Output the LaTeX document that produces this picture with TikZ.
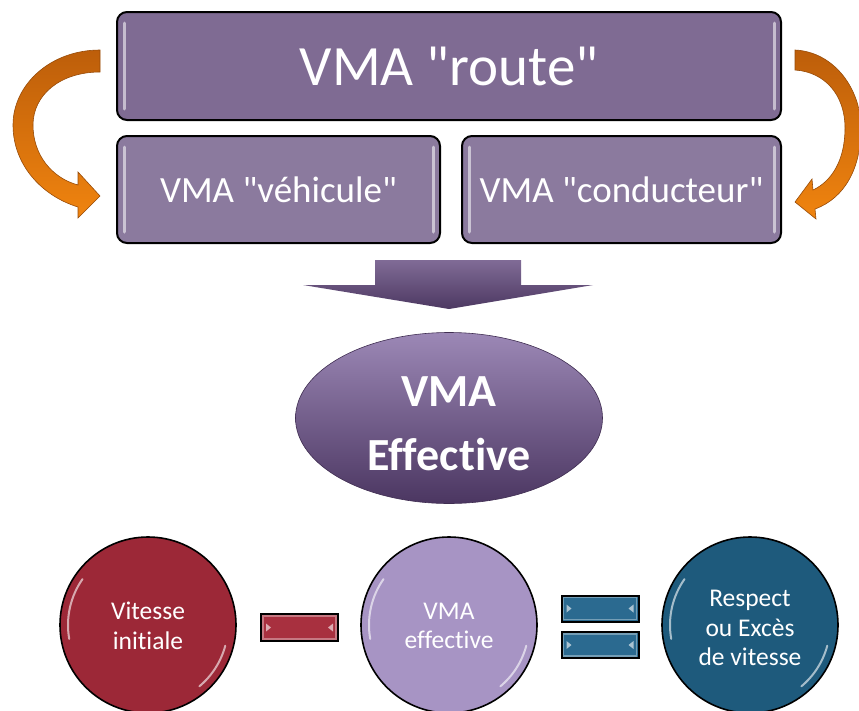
\documentclass[tikz,border=0pt]{standalone}
\usepackage{fontspec}
\setmainfont[Ligatures={TeXOff,NoCommon}]{Carlito}
\usetikzlibrary{shapes.geometric}
\definecolor{routec}{HTML}{7F6B93}
\definecolor{lowc}{HTML}{8B7A9E}
\definecolor{orA}{HTML}{BD5E0A}
\definecolor{orB}{HTML}{F0840F}
\definecolor{arrA}{HTML}{806B96}
\definecolor{arrB}{HTML}{4D3962}
\definecolor{elA}{HTML}{9C88B6}
\definecolor{elM}{HTML}{6C5587}
\definecolor{elB}{HTML}{4B3661}
\definecolor{redc}{HTML}{9C2837}
\definecolor{lavc}{HTML}{A794C4}
\definecolor{bluec}{HTML}{1E5A7C}
\definecolor{redbar}{HTML}{A8303F}
\definecolor{bluebar}{HTML}{2B6A90}
\tikzset{
  box/.style={draw=black, line width=2pt, rounded corners=10pt, text=white, inner sep=0pt},
  hl/.style={white, opacity=0.55, line width=3pt, line cap=round},
  ballc/.style={circle, draw=black, line width=1.6pt, minimum size=176pt, inner sep=0pt},
  balltext/.style={text=white, align=center, font=\fontsize{25.5}{29.5}\selectfont},
  barbox/.style={rectangle, draw=black, line width=2pt, inner sep=0pt, minimum width=77pt, minimum height=26pt},
}
\begin{document}
\begin{tikzpicture}[x=1pt,y=-1pt]
\useasboundingbox (0,0) rectangle (859,710);
\clip (0,0) rectangle (859,710);

% top boxes
\node[box, fill=routec, minimum width=664pt, minimum height=108pt, font=\fontsize{57}{60}\selectfont] (route) at (449,66) {VMA "route"};
\node[box, fill=lowc, minimum width=323pt, minimum height=107pt, font=\fontsize{37}{40}\selectfont] (veh) at (278.5,189.5) {VMA "véhicule"};
\node[box, fill=lowc, minimum width=319pt, minimum height=107pt, font=\fontsize{37}{40}\selectfont] (cond) at (621.5,189.5) {VMA "conducteur"};

% highlight strips
\foreach \n in {route,veh,cond}{
  \draw[hl] ([xshift=8pt,yshift=-12pt]\n.north west) -- ([xshift=8pt,yshift=12pt]\n.south west);
  \draw[hl] ([xshift=-8pt,yshift=-12pt]\n.north east) -- ([xshift=-8pt,yshift=12pt]\n.south east);
}

% orange curved arrows
\shade[top color=orA, bottom color=orB, draw=orA!80!black, line width=0.6pt]
  (100,50) .. controls (50,50) and (13,85) .. (13,125)
  .. controls (13,165) and (42,196) .. (78,207)
  -- (78,218) -- (100,196) -- (78,172) -- (78,185)
  .. controls (52,178) and (33,155) .. (33,125)
  .. controls (33,95) and (60,72) .. (100,72) -- cycle;
\shade[top color=orA, bottom color=orB, draw=orA!80!black, line width=0.6pt]
  (795,50) .. controls (835,52) and (861,90) .. (861,128)
  .. controls (861,168) and (845,198) .. (815,209)
  -- (816,219) -- (795,202) -- (812,179) -- (813,190)
  .. controls (832,181) and (845,160) .. (845,128)
  .. controls (845,95) and (825,72) .. (795,70) -- cycle;

% down block arrow
\coordinate (dtip) at (449,309);
\shade[top color=arrA, bottom color=arrB]
  (375,260) -- (521,260) -- (521,285) -- (593,285) -- (dtip) -- (303,285) -- (375,285) -- cycle;

% ellipse
\node[ellipse, minimum width=307pt, minimum height=171pt, inner sep=0pt,
  top color=elA, middle color=elM, bottom color=elB, draw=elB!85!black, line width=0.6pt] (eff) at (449,418) {};
\node[text=white, align=center, font=\fontsize{46}{64}\selectfont\bfseries] (efft) at (449,424) {VMA\\Effective};

% bottom circles
\node[ballc, fill=redc] (vi) at (148,625) {};
\node[ballc, fill=lavc] (ve) at (449,625) {};
\node[ballc, fill=bluec] (re) at (750,625) {};
\node[balltext] (vit) at (148,626) {Vitesse\\initiale};
\node[balltext] (vet) at (449,626) {VMA\\effective};
\node[balltext] (ret) at (750,628) {Respect\\ou Excès\\de vitesse};
\foreach \n in {vi,ve,re}{
  \draw[white, opacity=0.6, line width=2pt, line cap=round] (\n.center) ++(145:80pt) arc[start angle=145, end angle=190, radius=80pt];
  \draw[white, opacity=0.6, line width=2pt, line cap=round] (\n.center) ++(-15:80pt) arc[start angle=-15, end angle=-50, radius=80pt];
}

% minus and equals bars
\node[barbox, fill=redbar, minimum height=27pt] (minus) at (299.5,627.5) {};
\node[barbox, fill=bluebar] (eqa) at (600,608.5) {};
\node[barbox, fill=bluebar] (eqb) at (600,645) {};
\foreach \n in {minus,eqa,eqb}{
  \draw[white, opacity=0.35, line width=1.2pt] ([shift={(3pt,-3pt)}]\n.north west) rectangle ([shift={(-3pt,3pt)}]\n.south east);
  \fill[white, opacity=0.6] ([xshift=6pt]\n.west) ++(0,4) -- ++(5,-4) -- ++(-5,-4) -- cycle;
  \fill[white, opacity=0.6] ([xshift=-6pt]\n.east) ++(0,4) -- ++(-5,-4) -- ++(5,-4) -- cycle;
}
\end{tikzpicture}
\end{document}
